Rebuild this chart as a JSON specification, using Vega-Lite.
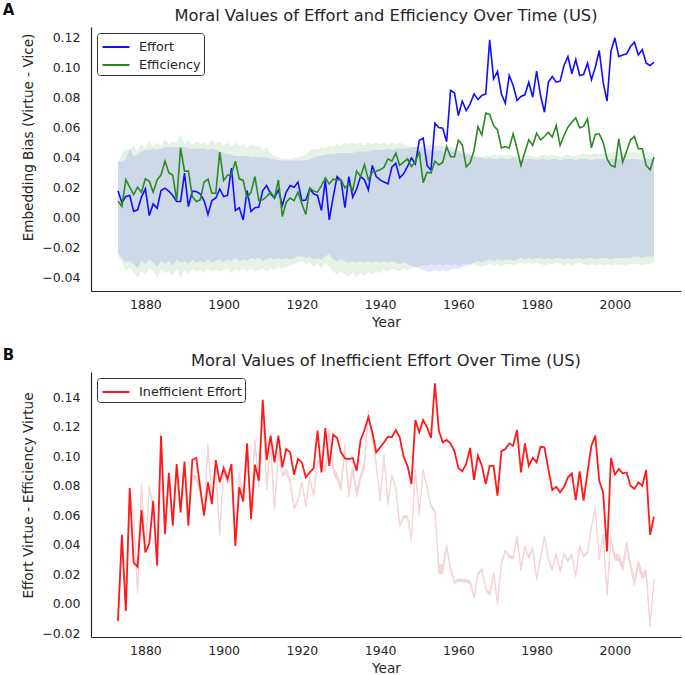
{
"$schema": "https://vega.github.io/schema/vega-lite/v6.json",
"padding": {"left": 2, "top": 2, "right": 5, "bottom": 1},
"spacing": 17,
"resolve": {"scale": {"color": "independent"}, "legend": {"color": "independent"}},
"datasets": {"d": [
{"year":1873,"Effort":0.0176,"Efficiency":0.0109,"eh":0.038,"el":-0.024,"fh":0.036,"fl":-0.025,"diff":-0.0115,"dl":-0.0118,"dh":-0.0102},
{"year":1874,"Effort":0.0100,"Efficiency":0.0073,"eh":0.037,"el":-0.027,"fh":0.042,"fl":-0.030,"diff":0.0468,"dl":0.0452,"dh":0.0468},
{"year":1875,"Effort":0.0140,"Efficiency":0.0251,"eh":0.039,"el":-0.030,"fh":0.046,"fl":-0.036,"diff":-0.0047,"dl":-0.0038,"dh":-0.0022},
{"year":1876,"Effort":0.0147,"Efficiency":0.0202,"eh":0.046,"el":-0.029,"fh":0.045,"fl":-0.033,"diff":0.0784,"dl":0.0742,"dh":0.0758},
{"year":1877,"Effort":0.0040,"Efficiency":0.0153,"eh":0.041,"el":-0.031,"fh":0.048,"fl":-0.037,"diff":0.0280,"dl":0.0592,"dh":0.0608},
{"year":1878,"Effort":0.0051,"Efficiency":0.0202,"eh":0.042,"el":-0.034,"fh":0.044,"fl":-0.040,"diff":0.0251,"dl":0.0072,"dh":0.0088},
{"year":1879,"Effort":0.0136,"Efficiency":0.0169,"eh":0.044,"el":-0.029,"fh":0.049,"fl":-0.036,"diff":0.0635,"dl":0.0802,"dh":0.0818},
{"year":1880,"Effort":0.0191,"Efficiency":0.0258,"eh":0.045,"el":-0.031,"fh":0.046,"fl":-0.038,"diff":0.0348,"dl":0.0352,"dh":0.0368},
{"year":1881,"Effort":0.0013,"Efficiency":0.0242,"eh":0.045,"el":-0.028,"fh":0.051,"fl":-0.034,"diff":0.0409,"dl":0.0782,"dh":0.0798},
{"year":1882,"Effort":0.0091,"Efficiency":0.0169,"eh":0.046,"el":-0.030,"fh":0.047,"fl":-0.036,"diff":0.0698,"dl":0.0642,"dh":0.0658},
{"year":1883,"Effort":0.0062,"Efficiency":0.0251,"eh":0.045,"el":-0.033,"fh":0.050,"fl":-0.040,"diff":0.0258,"dl":0.0272,"dh":0.0288},
{"year":1884,"Effort":0.0180,"Efficiency":0.0284,"eh":0.046,"el":-0.029,"fh":0.048,"fl":-0.035,"diff":0.1139,"dl":0.1142,"dh":0.1158},
{"year":1885,"Effort":0.0196,"Efficiency":0.0376,"eh":0.047,"el":-0.031,"fh":0.052,"fl":-0.037,"diff":0.0472,"dl":0.0482,"dh":0.0498},
{"year":1886,"Effort":0.0176,"Efficiency":0.0298,"eh":0.047,"el":-0.029,"fh":0.049,"fl":-0.036,"diff":0.0888,"dl":0.0852,"dh":0.0868},
{"year":1887,"Effort":0.0147,"Efficiency":0.0282,"eh":0.047,"el":-0.032,"fh":0.051,"fl":-0.039,"diff":0.0529,"dl":0.0572,"dh":0.0588},
{"year":1888,"Effort":0.0107,"Efficiency":0.0113,"eh":0.047,"el":-0.028,"fh":0.050,"fl":-0.034,"diff":0.0947,"dl":0.0892,"dh":0.0908},
{"year":1889,"Effort":0.0107,"Efficiency":0.0464,"eh":0.047,"el":-0.030,"fh":0.055,"fl":-0.040,"diff":0.0619,"dl":0.0652,"dh":0.0668},
{"year":1890,"Effort":0.0296,"Efficiency":0.0309,"eh":0.047,"el":-0.029,"fh":0.049,"fl":-0.035,"diff":0.0963,"dl":0.0932,"dh":0.0948},
{"year":1891,"Effort":0.0073,"Efficiency":0.0309,"eh":0.046,"el":-0.031,"fh":0.052,"fl":-0.038,"diff":0.0529,"dl":0.0572,"dh":0.0588},
{"year":1892,"Effort":0.0176,"Efficiency":0.0140,"eh":0.046,"el":-0.028,"fh":0.048,"fl":-0.034,"diff":0.0976,"dl":0.0845,"dh":0.0875},
{"year":1893,"Effort":0.0173,"Efficiency":0.0107,"eh":0.046,"el":-0.030,"fh":0.051,"fl":-0.036,"diff":0.0988,"dl":0.0835,"dh":0.0865},
{"year":1894,"Effort":0.0158,"Efficiency":0.0118,"eh":0.046,"el":-0.029,"fh":0.049,"fl":-0.035,"diff":0.0789,"dl":0.0745,"dh":0.0775},
{"year":1895,"Effort":0.0113,"Efficiency":0.0236,"eh":0.046,"el":-0.030,"fh":0.050,"fl":-0.037,"diff":0.0597,"dl":0.0605,"dh":0.0635},
{"year":1896,"Effort":0.0020,"Efficiency":0.0256,"eh":0.045,"el":-0.028,"fh":0.048,"fl":-0.034,"diff":0.0823,"dl":0.1062,"dh":0.1078},
{"year":1897,"Effort":0.0113,"Efficiency":0.0162,"eh":0.046,"el":-0.030,"fh":0.052,"fl":-0.036,"diff":0.0675,"dl":0.0702,"dh":0.0718},
{"year":1898,"Effort":0.0130,"Efficiency":0.0162,"eh":0.045,"el":-0.029,"fh":0.049,"fl":-0.035,"diff":0.0974,"dl":0.0892,"dh":0.0908},
{"year":1899,"Effort":0.0190,"Efficiency":0.0436,"eh":0.044,"el":-0.028,"fh":0.051,"fl":-0.036,"diff":0.0823,"dl":0.0462,"dh":0.0478},
{"year":1900,"Effort":0.0140,"Efficiency":0.0247,"eh":0.043,"el":-0.030,"fh":0.048,"fl":-0.035,"diff":0.0920,"dl":0.0882,"dh":0.0898},
{"year":1901,"Effort":0.0147,"Efficiency":0.0282,"eh":0.042,"el":-0.028,"fh":0.050,"fl":-0.034,"diff":0.0845,"dl":0.0812,"dh":0.0828},
{"year":1902,"Effort":0.0329,"Efficiency":0.0287,"eh":0.042,"el":-0.029,"fh":0.047,"fl":-0.037,"diff":0.0947,"dl":0.0852,"dh":0.0868},
{"year":1903,"Effort":0.0047,"Efficiency":0.0376,"eh":0.041,"el":-0.027,"fh":0.050,"fl":-0.034,"diff":0.0393,"dl":0.0452,"dh":0.0468},
{"year":1904,"Effort":0.0065,"Efficiency":0.0258,"eh":0.041,"el":-0.029,"fh":0.048,"fl":-0.036,"diff":0.0789,"dl":0.0872,"dh":0.0888},
{"year":1905,"Effort":-0.0016,"Efficiency":0.0247,"eh":0.041,"el":-0.028,"fh":0.049,"fl":-0.034,"diff":0.0694,"dl":0.0712,"dh":0.0728},
{"year":1906,"Effort":0.0180,"Efficiency":0.0130,"eh":0.041,"el":-0.029,"fh":0.046,"fl":-0.036,"diff":0.1087,"dl":0.0982,"dh":0.0998},
{"year":1907,"Effort":0.0040,"Efficiency":0.0169,"eh":0.040,"el":-0.027,"fh":0.049,"fl":-0.034,"diff":0.0574,"dl":0.0612,"dh":0.0628},
{"year":1908,"Effort":0.0065,"Efficiency":0.0273,"eh":0.041,"el":-0.028,"fh":0.047,"fl":-0.036,"diff":0.0943,"dl":0.1092,"dh":0.1108},
{"year":1909,"Effort":0.0069,"Efficiency":0.0113,"eh":0.040,"el":-0.027,"fh":0.048,"fl":-0.035,"diff":0.0834,"dl":0.0792,"dh":0.0808},
{"year":1910,"Effort":0.0180,"Efficiency":0.0118,"eh":0.040,"el":-0.029,"fh":0.045,"fl":-0.034,"diff":0.1381,"dl":0.1332,"dh":0.1348},
{"year":1911,"Effort":0.0213,"Efficiency":0.0140,"eh":0.040,"el":-0.028,"fh":0.047,"fl":-0.036,"diff":0.0974,"dl":0.0772,"dh":0.0788},
{"year":1912,"Effort":0.0158,"Efficiency":0.0169,"eh":0.039,"el":-0.027,"fh":0.043,"fl":-0.034,"diff":0.1139,"dl":0.1072,"dh":0.1088},
{"year":1913,"Effort":0.0130,"Efficiency":0.0130,"eh":0.039,"el":-0.028,"fh":0.041,"fl":-0.035,"diff":0.0958,"dl":0.0632,"dh":0.0648},
{"year":1914,"Effort":0.0185,"Efficiency":0.0251,"eh":0.038,"el":-0.027,"fh":0.040,"fl":-0.033,"diff":0.1139,"dl":0.1022,"dh":0.1038},
{"year":1915,"Effort":0.0080,"Efficiency":0.0007,"eh":0.038,"el":-0.028,"fh":0.039,"fl":-0.034,"diff":0.0924,"dl":0.0862,"dh":0.0878},
{"year":1916,"Effort":0.0169,"Efficiency":0.0102,"eh":0.038,"el":-0.027,"fh":0.039,"fl":-0.033,"diff":0.1049,"dl":0.0885,"dh":0.0915},
{"year":1917,"Effort":0.0213,"Efficiency":0.0130,"eh":0.038,"el":-0.028,"fh":0.039,"fl":-0.032,"diff":0.1026,"dl":0.0815,"dh":0.0845},
{"year":1918,"Effort":0.0202,"Efficiency":0.0113,"eh":0.038,"el":-0.027,"fh":0.040,"fl":-0.031,"diff":0.0875,"dl":0.0642,"dh":0.0658},
{"year":1919,"Effort":0.0236,"Efficiency":0.0169,"eh":0.038,"el":-0.026,"fh":0.040,"fl":-0.030,"diff":0.0981,"dl":0.0692,"dh":0.0708},
{"year":1920,"Effort":0.0113,"Efficiency":0.0091,"eh":0.038,"el":-0.026,"fh":0.041,"fl":-0.029,"diff":0.0958,"dl":0.0815,"dh":0.0831},
{"year":1921,"Effort":0.0116,"Efficiency":0.0020,"eh":0.038,"el":-0.027,"fh":0.042,"fl":-0.031,"diff":0.0857,"dl":0.0656,"dh":0.0672},
{"year":1922,"Effort":0.0190,"Efficiency":0.0198,"eh":0.039,"el":-0.026,"fh":0.044,"fl":-0.030,"diff":0.0890,"dl":0.0849,"dh":0.0865},
{"year":1923,"Effort":0.0158,"Efficiency":0.0176,"eh":0.040,"el":-0.028,"fh":0.046,"fl":-0.033,"diff":0.0917,"dl":0.0724,"dh":0.0740},
{"year":1924,"Effort":0.0147,"Efficiency":0.0169,"eh":0.041,"el":-0.027,"fh":0.045,"fl":-0.031,"diff":0.1173,"dl":0.0962,"dh":0.0978},
{"year":1925,"Effort":0.0047,"Efficiency":0.0213,"eh":0.041,"el":-0.028,"fh":0.047,"fl":-0.034,"diff":0.0890,"dl":0.0904,"dh":0.0944},
{"year":1926,"Effort":0.0247,"Efficiency":0.0264,"eh":0.042,"el":-0.026,"fh":0.046,"fl":-0.030,"diff":0.1191,"dl":0.0893,"dh":0.0933},
{"year":1927,"Effort":-0.0016,"Efficiency":0.0224,"eh":0.042,"el":-0.024,"fh":0.048,"fl":-0.033,"diff":0.0935,"dl":0.1142,"dh":0.1182},
{"year":1928,"Effort":0.0136,"Efficiency":0.0256,"eh":0.042,"el":-0.028,"fh":0.047,"fl":-0.036,"diff":0.1146,"dl":0.0886,"dh":0.0926},
{"year":1929,"Effort":0.0273,"Efficiency":0.0251,"eh":0.043,"el":-0.029,"fh":0.049,"fl":-0.038,"diff":0.1123,"dl":0.0837,"dh":0.0877},
{"year":1930,"Effort":0.0247,"Efficiency":0.0251,"eh":0.043,"el":-0.028,"fh":0.048,"fl":-0.036,"diff":0.1026,"dl":0.0769,"dh":0.0809},
{"year":1931,"Effort":0.0065,"Efficiency":0.0198,"eh":0.043,"el":-0.029,"fh":0.050,"fl":-0.038,"diff":0.0985,"dl":0.1040,"dh":0.1080},
{"year":1932,"Effort":0.0273,"Efficiency":0.0224,"eh":0.043,"el":-0.030,"fh":0.049,"fl":-0.039,"diff":0.0981,"dl":0.0724,"dh":0.0764},
{"year":1933,"Effort":0.0136,"Efficiency":0.0180,"eh":0.043,"el":-0.029,"fh":0.050,"fl":-0.037,"diff":0.0988,"dl":0.0893,"dh":0.0933},
{"year":1934,"Effort":0.0190,"Efficiency":0.0309,"eh":0.044,"el":-0.030,"fh":0.049,"fl":-0.040,"diff":0.0902,"dl":0.0724,"dh":0.0764},
{"year":1935,"Effort":0.0273,"Efficiency":0.0273,"eh":0.044,"el":-0.029,"fh":0.050,"fl":-0.037,"diff":0.1110,"dl":0.0837,"dh":0.0877},
{"year":1936,"Effort":0.0251,"Efficiency":0.0353,"eh":0.044,"el":-0.030,"fh":0.048,"fl":-0.039,"diff":0.1177,"dl":0.0932,"dh":0.0962},
{"year":1937,"Effort":0.0184,"Efficiency":0.0251,"eh":0.044,"el":-0.029,"fh":0.050,"fl":-0.036,"diff":0.1263,"dl":0.1282,"dh":0.1312},
{"year":1938,"Effort":0.0347,"Efficiency":0.0302,"eh":0.045,"el":-0.030,"fh":0.049,"fl":-0.038,"diff":0.1162,"dl":0.1108,"dh":0.1124},
{"year":1939,"Effort":0.0273,"Efficiency":0.0309,"eh":0.045,"el":-0.029,"fh":0.050,"fl":-0.036,"diff":0.1026,"dl":0.0939,"dh":0.0955},
{"year":1940,"Effort":0.0251,"Efficiency":0.0318,"eh":0.045,"el":-0.030,"fh":0.049,"fl":-0.037,"diff":0.1060,"dl":0.0694,"dh":0.0710},
{"year":1941,"Effort":0.0236,"Efficiency":0.0336,"eh":0.045,"el":-0.029,"fh":0.050,"fl":-0.035,"diff":0.1094,"dl":0.0995,"dh":0.1011},
{"year":1942,"Effort":0.0224,"Efficiency":0.0391,"eh":0.046,"el":-0.030,"fh":0.048,"fl":-0.036,"diff":0.1132,"dl":0.0672,"dh":0.0688},
{"year":1943,"Effort":0.0336,"Efficiency":0.0376,"eh":0.045,"el":-0.029,"fh":0.050,"fl":-0.034,"diff":0.1128,"dl":0.0860,"dh":0.0876},
{"year":1944,"Effort":0.0362,"Efficiency":0.0429,"eh":0.046,"el":-0.030,"fh":0.049,"fl":-0.035,"diff":0.1177,"dl":0.0781,"dh":0.0797},
{"year":1945,"Effort":0.0264,"Efficiency":0.0347,"eh":0.046,"el":-0.031,"fh":0.050,"fl":-0.036,"diff":0.1128,"dl":0.0521,"dh":0.0537},
{"year":1946,"Effort":0.0291,"Efficiency":0.0369,"eh":0.046,"el":-0.030,"fh":0.049,"fl":-0.034,"diff":0.0997,"dl":0.0582,"dh":0.0598},
{"year":1947,"Effort":0.0340,"Efficiency":0.0391,"eh":0.046,"el":-0.031,"fh":0.048,"fl":-0.035,"diff":0.0935,"dl":0.0582,"dh":0.0598},
{"year":1948,"Effort":0.0398,"Efficiency":0.0340,"eh":0.047,"el":-0.032,"fh":0.047,"fl":-0.034,"diff":0.0811,"dl":0.0431,"dh":0.0447},
{"year":1949,"Effort":0.0358,"Efficiency":0.0369,"eh":0.047,"el":-0.033,"fh":0.047,"fl":-0.033,"diff":0.1245,"dl":0.0898,"dh":0.0914},
{"year":1950,"Effort":0.0513,"Efficiency":0.0440,"eh":0.047,"el":-0.034,"fh":0.046,"fl":-0.033,"diff":0.1162,"dl":0.0599,"dh":0.0615},
{"year":1951,"Effort":0.0530,"Efficiency":0.0232,"eh":0.048,"el":-0.035,"fh":0.046,"fl":-0.032,"diff":0.1245,"dl":0.0894,"dh":0.0910},
{"year":1952,"Effort":0.0347,"Efficiency":0.0302,"eh":0.048,"el":-0.036,"fh":0.045,"fl":-0.032,"diff":0.1196,"dl":0.0781,"dh":0.0797},
{"year":1953,"Effort":0.0315,"Efficiency":0.0296,"eh":0.048,"el":-0.036,"fh":0.045,"fl":-0.031,"diff":0.1123,"dl":0.0656,"dh":0.0672},
{"year":1954,"Effort":0.0629,"Efficiency":0.0375,"eh":0.048,"el":-0.035,"fh":0.044,"fl":-0.032,"diff":0.1494,"dl":0.0618,"dh":0.0634},
{"year":1955,"Effort":0.0600,"Efficiency":0.0350,"eh":0.048,"el":-0.036,"fh":0.045,"fl":-0.031,"diff":0.1173,"dl":0.0205,"dh":0.0265},
{"year":1956,"Effort":0.0595,"Efficiency":0.0369,"eh":0.048,"el":-0.035,"fh":0.044,"fl":-0.032,"diff":0.1094,"dl":0.0205,"dh":0.0265},
{"year":1957,"Effort":0.0505,"Efficiency":0.0473,"eh":0.047,"el":-0.036,"fh":0.045,"fl":-0.031,"diff":0.1110,"dl":0.0383,"dh":0.0403},
{"year":1958,"Effort":0.0847,"Efficiency":0.0405,"eh":0.047,"el":-0.035,"fh":0.044,"fl":-0.032,"diff":0.1087,"dl":0.0225,"dh":0.0245},
{"year":1959,"Effort":0.0831,"Efficiency":0.0405,"eh":0.046,"el":-0.034,"fh":0.044,"fl":-0.031,"diff":0.1033,"dl":0.0137,"dh":0.0153},
{"year":1960,"Effort":0.0680,"Efficiency":0.0515,"eh":0.045,"el":-0.034,"fh":0.043,"fl":-0.032,"diff":0.0920,"dl":0.0152,"dh":0.0168},
{"year":1961,"Effort":0.0776,"Efficiency":0.0484,"eh":0.044,"el":-0.033,"fh":0.043,"fl":-0.031,"diff":0.0897,"dl":0.0148,"dh":0.0164},
{"year":1962,"Effort":0.0713,"Efficiency":0.0338,"eh":0.043,"el":-0.032,"fh":0.042,"fl":-0.031,"diff":0.0947,"dl":0.0148,"dh":0.0164},
{"year":1963,"Effort":0.0758,"Efficiency":0.0365,"eh":0.042,"el":-0.031,"fh":0.042,"fl":-0.032,"diff":0.1056,"dl":0.0137,"dh":0.0153},
{"year":1964,"Effort":0.0824,"Efficiency":0.0447,"eh":0.041,"el":-0.030,"fh":0.041,"fl":-0.031,"diff":0.0839,"dl":0.0037,"dh":0.0053},
{"year":1965,"Effort":0.0787,"Efficiency":0.0605,"eh":0.040,"el":-0.029,"fh":0.041,"fl":-0.032,"diff":0.1003,"dl":0.0193,"dh":0.0209},
{"year":1966,"Effort":0.0813,"Efficiency":0.0550,"eh":0.040,"el":-0.030,"fh":0.040,"fl":-0.033,"diff":0.0935,"dl":0.0227,"dh":0.0243},
{"year":1967,"Effort":0.0824,"Efficiency":0.0696,"eh":0.039,"el":-0.029,"fh":0.041,"fl":-0.032,"diff":0.0811,"dl":0.0091,"dh":0.0107},
{"year":1968,"Effort":0.1184,"Efficiency":0.0687,"eh":0.040,"el":-0.028,"fh":0.041,"fl":-0.031,"diff":0.0935,"dl":0.0057,"dh":0.0073},
{"year":1969,"Effort":0.0924,"Efficiency":0.0613,"eh":0.039,"el":-0.029,"fh":0.042,"fl":-0.032,"diff":0.0935,"dl":0.0198,"dh":0.0214},
{"year":1970,"Effort":0.0973,"Efficiency":0.0584,"eh":0.039,"el":-0.028,"fh":0.041,"fl":-0.031,"diff":0.0732,"dl":0.0001,"dh":0.0017},
{"year":1971,"Effort":0.0824,"Efficiency":0.0464,"eh":0.040,"el":-0.029,"fh":0.042,"fl":-0.033,"diff":0.1033,"dl":0.0265,"dh":0.0281},
{"year":1972,"Effort":0.0762,"Efficiency":0.0473,"eh":0.039,"el":-0.028,"fh":0.041,"fl":-0.031,"diff":0.1049,"dl":0.0351,"dh":0.0367},
{"year":1973,"Effort":0.0947,"Efficiency":0.0464,"eh":0.039,"el":-0.028,"fh":0.042,"fl":-0.031,"diff":0.1087,"dl":0.0311,"dh":0.0327},
{"year":1974,"Effort":0.0880,"Efficiency":0.0558,"eh":0.040,"el":-0.029,"fh":0.041,"fl":-0.032,"diff":0.1071,"dl":0.0306,"dh":0.0322},
{"year":1975,"Effort":0.0780,"Efficiency":0.0458,"eh":0.039,"el":-0.028,"fh":0.041,"fl":-0.031,"diff":0.1177,"dl":0.0446,"dh":0.0462},
{"year":1976,"Effort":0.0807,"Efficiency":0.0347,"eh":0.038,"el":-0.027,"fh":0.040,"fl":-0.030,"diff":0.0890,"dl":0.0227,"dh":0.0243},
{"year":1977,"Effort":0.0818,"Efficiency":0.0436,"eh":0.039,"el":-0.028,"fh":0.041,"fl":-0.031,"diff":0.1087,"dl":0.0378,"dh":0.0394},
{"year":1978,"Effort":0.0902,"Efficiency":0.0518,"eh":0.039,"el":-0.027,"fh":0.041,"fl":-0.030,"diff":0.0935,"dl":0.0306,"dh":0.0322},
{"year":1979,"Effort":0.0802,"Efficiency":0.0480,"eh":0.039,"el":-0.028,"fh":0.041,"fl":-0.031,"diff":0.0988,"dl":0.0369,"dh":0.0385},
{"year":1980,"Effort":0.0976,"Efficiency":0.0562,"eh":0.038,"el":-0.027,"fh":0.040,"fl":-0.030,"diff":0.0958,"dl":0.0159,"dh":0.0175},
{"year":1981,"Effort":0.0813,"Efficiency":0.0518,"eh":0.039,"el":-0.027,"fh":0.041,"fl":-0.031,"diff":0.1064,"dl":0.0306,"dh":0.0322},
{"year":1982,"Effort":0.0702,"Efficiency":0.0540,"eh":0.039,"el":-0.028,"fh":0.042,"fl":-0.032,"diff":0.1060,"dl":0.0446,"dh":0.0462},
{"year":1983,"Effort":0.0902,"Efficiency":0.0569,"eh":0.038,"el":-0.027,"fh":0.041,"fl":-0.031,"diff":0.0913,"dl":0.0295,"dh":0.0311},
{"year":1984,"Effort":0.0940,"Efficiency":0.0536,"eh":0.039,"el":-0.028,"fh":0.042,"fl":-0.031,"diff":0.0771,"dl":0.0227,"dh":0.0243},
{"year":1985,"Effort":0.0902,"Efficiency":0.0613,"eh":0.039,"el":-0.027,"fh":0.041,"fl":-0.030,"diff":0.0793,"dl":0.0329,"dh":0.0345},
{"year":1986,"Effort":0.0909,"Efficiency":0.0480,"eh":0.038,"el":-0.027,"fh":0.040,"fl":-0.031,"diff":0.0755,"dl":0.0212,"dh":0.0228},
{"year":1987,"Effort":0.1013,"Efficiency":0.0547,"eh":0.039,"el":-0.028,"fh":0.041,"fl":-0.032,"diff":0.0793,"dl":0.0329,"dh":0.0345},
{"year":1988,"Effort":0.1073,"Efficiency":0.0602,"eh":0.039,"el":-0.027,"fh":0.042,"fl":-0.031,"diff":0.0857,"dl":0.0284,"dh":0.0300},
{"year":1989,"Effort":0.0958,"Efficiency":0.0636,"eh":0.039,"el":-0.028,"fh":0.041,"fl":-0.032,"diff":0.0884,"dl":0.0324,"dh":0.0340},
{"year":1990,"Effort":0.1053,"Efficiency":0.0664,"eh":0.038,"el":-0.027,"fh":0.041,"fl":-0.031,"diff":0.0703,"dl":0.0182,"dh":0.0198},
{"year":1991,"Effort":0.0947,"Efficiency":0.0598,"eh":0.039,"el":-0.027,"fh":0.042,"fl":-0.030,"diff":0.0897,"dl":0.0385,"dh":0.0401},
{"year":1992,"Effort":0.0953,"Efficiency":0.0607,"eh":0.039,"el":-0.028,"fh":0.043,"fl":-0.031,"diff":0.0699,"dl":0.0317,"dh":0.0333},
{"year":1993,"Effort":0.1029,"Efficiency":0.0658,"eh":0.039,"el":-0.027,"fh":0.042,"fl":-0.032,"diff":0.0890,"dl":0.0340,"dh":0.0356},
{"year":1994,"Effort":0.0918,"Efficiency":0.0464,"eh":0.038,"el":-0.027,"fh":0.042,"fl":-0.031,"diff":0.1071,"dl":0.0509,"dh":0.0525},
{"year":1995,"Effort":0.1002,"Efficiency":0.0553,"eh":0.039,"el":-0.028,"fh":0.043,"fl":-0.032,"diff":0.1139,"dl":0.0634,"dh":0.0650},
{"year":1996,"Effort":0.1113,"Efficiency":0.0558,"eh":0.039,"el":-0.027,"fh":0.042,"fl":-0.031,"diff":0.0834,"dl":0.0295,"dh":0.0311},
{"year":1997,"Effort":0.0902,"Efficiency":0.0502,"eh":0.039,"el":-0.027,"fh":0.043,"fl":-0.032,"diff":0.0755,"dl":0.0453,"dh":0.0469},
{"year":1998,"Effort":0.0776,"Efficiency":0.0391,"eh":0.038,"el":-0.027,"fh":0.042,"fl":-0.031,"diff":0.0355,"dl":0.0057,"dh":0.0073},
{"year":1999,"Effort":0.1109,"Efficiency":0.0347,"eh":0.039,"el":-0.028,"fh":0.043,"fl":-0.032,"diff":0.0988,"dl":0.0442,"dh":0.0458},
{"year":2000,"Effort":0.1198,"Efficiency":0.0336,"eh":0.039,"el":-0.027,"fh":0.044,"fl":-0.031,"diff":0.0875,"dl":0.0294,"dh":0.0334},
{"year":2001,"Effort":0.1073,"Efficiency":0.0524,"eh":0.039,"el":-0.027,"fh":0.043,"fl":-0.032,"diff":0.0913,"dl":0.0294,"dh":0.0334},
{"year":2002,"Effort":0.1084,"Efficiency":0.0369,"eh":0.038,"el":-0.027,"fh":0.043,"fl":-0.031,"diff":0.0884,"dl":0.0226,"dh":0.0266},
{"year":2003,"Effort":0.1091,"Efficiency":0.0442,"eh":0.039,"el":-0.027,"fh":0.044,"fl":-0.032,"diff":0.0890,"dl":0.0380,"dh":0.0420},
{"year":2004,"Effort":0.1140,"Efficiency":0.0518,"eh":0.039,"el":-0.027,"fh":0.043,"fl":-0.031,"diff":0.0800,"dl":0.0238,"dh":0.0278},
{"year":2005,"Effort":0.1169,"Efficiency":0.0540,"eh":0.039,"el":-0.026,"fh":0.044,"fl":-0.031,"diff":0.0778,"dl":0.0125,"dh":0.0165},
{"year":2006,"Effort":0.1084,"Efficiency":0.0458,"eh":0.039,"el":-0.026,"fh":0.043,"fl":-0.031,"diff":0.0823,"dl":0.0253,"dh":0.0293},
{"year":2007,"Effort":0.1120,"Efficiency":0.0458,"eh":0.038,"el":-0.027,"fh":0.044,"fl":-0.032,"diff":0.0800,"dl":0.0170,"dh":0.0210},
{"year":2008,"Effort":0.1029,"Efficiency":0.0347,"eh":0.039,"el":-0.026,"fh":0.044,"fl":-0.031,"diff":0.0906,"dl":0.0192,"dh":0.0232},
{"year":2009,"Effort":0.1013,"Efficiency":0.0318,"eh":0.039,"el":-0.026,"fh":0.043,"fl":-0.031,"diff":0.0468,"dl":-0.0157,"dh":-0.0141},
{"year":2010,"Effort":0.1036,"Efficiency":0.0404,"eh":0.039,"el":-0.026,"fh":0.043,"fl":-0.030,"diff":0.0590,"dl":0.0152,"dh":0.0168}
]},
"vconcat": [
{
"title": {"text": "A", "anchor": "start", "fontWeight": "bold", "fontSize": 15, "color": "#111111", "dx": -19, "offset": -10},
"vconcat": [{
"width": 590, "height": 264,
"title": {"text": "Moral Values of Effort and Efficiency Over Time (US)"},
"data": {"name": "d"},
"encoding": {"x": {"field": "year", "type": "quantitative", "title": "Year", "scale": {"domain": [1866.1, 2016.9], "nice": false, "zero": false}, "axis": {"values": [1880, 1900, 1920, 1940, 1960, 1980, 2000], "format": "d", "tickCount": 20}}},
"layer": [
{"mark": {"type": "area", "color": "green", "opacity": 0.1}, "encoding": {"y": {"field": "fl", "type": "quantitative", "title": "Embedding Bias (Virtue - Vice)", "scale": {"domain": [-0.049, 0.127], "nice": false, "zero": false}, "axis": {"values": [-0.04, -0.02, 0, 0.02, 0.04, 0.06, 0.08, 0.1, 0.12], "format": ".2f", "titleY": 110, "tickCount": 20}}, "y2": {"field": "fh"}}},
{"mark": {"type": "area", "color": "blue", "opacity": 0.1}, "encoding": {"y": {"field": "el", "type": "quantitative", "title": "Embedding Bias (Virtue - Vice)"}, "y2": {"field": "eh"}}},
{"transform": [{"fold": ["Effort", "Efficiency"], "as": ["series", "value"]}], "mark": {"type": "line", "strokeWidth": 1.6}, "encoding": {"y": {"field": "value", "type": "quantitative", "title": "Embedding Bias (Virtue - Vice)"}, "color": {"field": "series", "type": "nominal", "scale": {"domain": ["Effort", "Efficiency"], "range": ["#1010ff", "#2a8a22"]}, "legend": {"title": null}}}}
]
}]
},
{
"title": {"text": "B", "anchor": "start", "fontWeight": "bold", "fontSize": 15, "color": "#111111", "dx": -19, "offset": -10},
"vconcat": [{
"width": 590, "height": 265,
"title": {"text": "Moral Values of Inefficient Effort Over Time (US)"},
"data": {"name": "d"},
"encoding": {"x": {"field": "year", "type": "quantitative", "title": "Year", "scale": {"domain": [1866.1, 2016.9], "nice": false, "zero": false}, "axis": {"values": [1880, 1900, 1920, 1940, 1960, 1980, 2000], "format": "d", "tickCount": 20}}},
"layer": [
{"mark": {"type": "area", "fill": "#f5d3d6", "stroke": "#f5d3d6", "strokeWidth": 1}, "encoding": {"y": {"field": "dl", "type": "quantitative", "title": "Effort Virtue - Efficiency Virtue", "scale": {"domain": [-0.0224, 0.157], "nice": false, "zero": false}, "axis": {"values": [-0.02, 0, 0.02, 0.04, 0.06, 0.08, 0.1, 0.12, 0.14], "format": ".2f", "titleY": 123, "tickCount": 20}}, "y2": {"field": "dh"}}},
{"mark": {"type": "line", "strokeWidth": 1.8}, "encoding": {"y": {"field": "diff", "type": "quantitative", "title": "Effort Virtue - Efficiency Virtue"}, "color": {"datum": "Inefficient Effort", "type": "nominal", "scale": {"domain": ["Inefficient Effort"], "range": ["#ff1a1a"]}, "legend": {"title": null}}}}
]
}]
}
],
"config": {
"font": "DejaVu Sans",
"view": {"stroke": null},
"axis": {"grid": false, "ticks": false, "tickSize": 0, "domainColor": "#262626", "domainWidth": 1.2, "labelColor": "#262626", "titleColor": "#262626", "labelFontSize": 12.5, "titleFontSize": 13.6, "titleFontWeight": "normal", "labelPadding": 7, "titlePadding": 5, "labelOverlap": false},
"axisY": {"labelPadding": 11, "titlePadding": 6},
"title": {"fontSize": 16.3, "fontWeight": "normal", "color": "#262626", "offset": 3},
"legend": {"orient": "top-left", "offset": 6, "strokeColor": "#333333", "strokeWidth": 1, "cornerRadius": 3, "padding": 3, "fillColor": "white", "labelFontSize": 12.8, "labelColor": "#262626", "symbolType": "M-1.35,0H1.35", "symbolStrokeWidth": 2, "symbolSize": 400, "symbolOffset": 5, "rowPadding": 0, "labelOffset": 12}
}
}
